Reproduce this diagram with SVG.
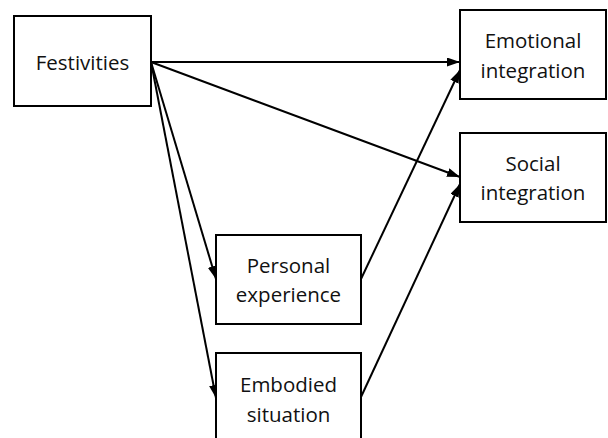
<svg xmlns="http://www.w3.org/2000/svg" width="608" height="438" viewBox="0 0 608 438">
  <style>
    .box { fill: #ffffff; stroke: #000000; stroke-width: 2; }
    .lbl { font-family: "Open Sans", "Liberation Sans", sans-serif; font-size: 20.5px; fill: #111111; text-anchor: middle; }
    .edge { stroke: #000000; stroke-width: 2; fill: none; marker-end: url(#arrow); }
  </style>
  <defs>
    <marker id="arrow" viewBox="0 0 13 9" refX="13" refY="4.5" markerWidth="13" markerHeight="9" markerUnits="userSpaceOnUse" orient="auto">
      <path d="M0,0 L13,4.5 L0,9 Z" fill="#000000"/>
    </marker>
  </defs>

  <rect width="608" height="438" fill="#ffffff"/>

  <g id="connectors">
    <line class="edge" x1="151" y1="62" x2="460" y2="62"/>
    <line class="edge" x1="151" y1="62" x2="460" y2="177"/>
    <line class="edge" x1="151" y1="62" x2="216" y2="279"/>
    <line class="edge" x1="151" y1="62" x2="216" y2="398"/>
    <line class="edge" x1="361" y1="279" x2="460" y2="70"/>
    <line class="edge" x1="361" y1="397" x2="460" y2="184"/>
  </g>

  <g id="festivities">
    <rect class="box" x="14" y="16" width="137" height="90"/>
    <text class="lbl" x="82.5" y="70">Festivities</text>
  </g>

  <g id="emotional-integration">
    <rect class="box" x="460" y="10" width="146" height="89"/>
    <text class="lbl" x="533" y="48">Emotional</text>
    <text class="lbl" x="533" y="78">integration</text>
  </g>

  <g id="social-integration">
    <rect class="box" x="460" y="133" width="146" height="89"/>
    <text class="lbl" x="533" y="171">Social</text>
    <text class="lbl" x="533" y="200">integration</text>
  </g>

  <g id="personal-experience">
    <rect class="box" x="216" y="235" width="145" height="89"/>
    <text class="lbl" x="288.5" y="273">Personal</text>
    <text class="lbl" x="288.5" y="302">experience</text>
  </g>

  <g id="embodied-situation">
    <rect class="box" x="216" y="353" width="145" height="100"/>
    <text class="lbl" x="288.5" y="392">Embodied</text>
    <text class="lbl" x="288.5" y="422">situation</text>
  </g>
</svg>
